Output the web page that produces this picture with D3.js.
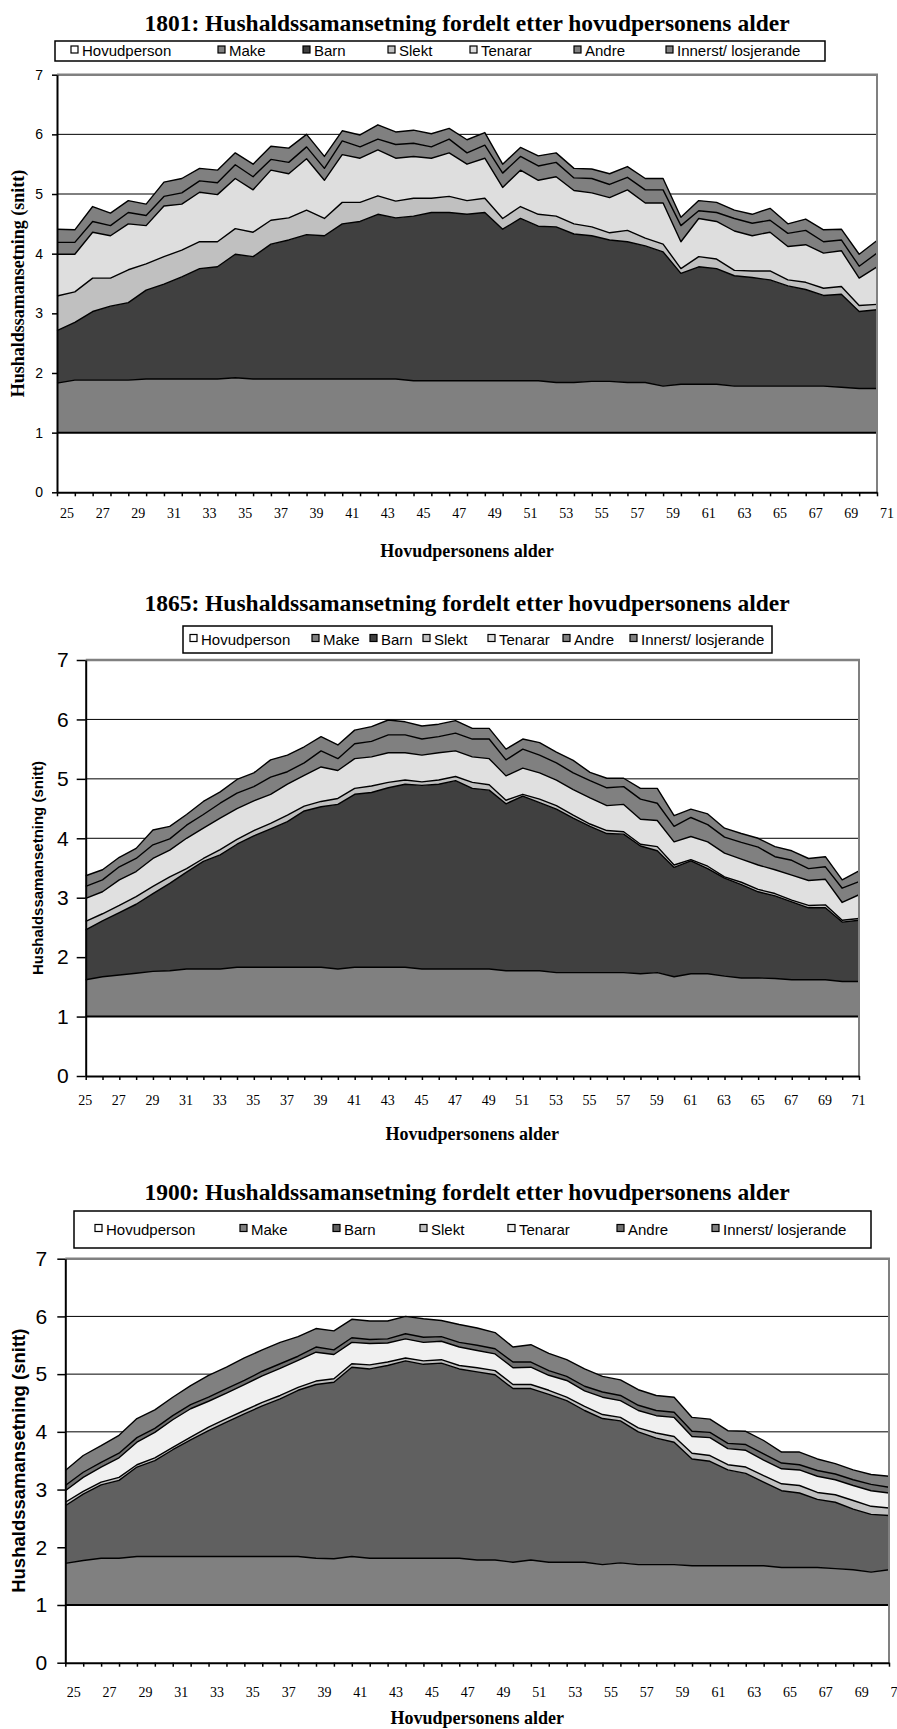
<!DOCTYPE html>
<html>
<head>
<meta charset="utf-8">
<script src="https://cdn.jsdelivr.net/npm/d3@7"></script>
<style>
body { margin: 0; background: #fff; }
svg { display: block; }
</style>
</head>
<body>
<div id="chart"></div>
<script>
var ages = [25,26,27,28,29,30,31,32,33,34,35,36,37,38,39,40,41,42,43,44,45,46,47,48,49,
            50,51,52,53,54,55,56,57,58,59,60,61,62,63,64,65,66,67,68,69,70,71];
var tickAges = [25,27,29,31,33,35,37,39,41,43,45,47,49,51,53,55,57,59,61,63,65,67,69,71];
var keys = ["Hovudperson","Make","Barn","Slekt","Tenarar","Andre","Innerst/ losjerande"];

// hovudpersonen sjølv: alltid 1
var hovudperson = [1,1,1,1,1,1,1,1,1,1,1,1,1,1,1,1,1,1,1,1,1,1,1,1,1,
                   1,1,1,1,1,1,1,1,1,1,1,1,1,1,1,1,1,1,1,1,1,1];

// 1801
var make1801 = [0.83,0.88,0.88,0.88,0.88,0.90,0.90,0.90,0.90,0.90, 0.92,0.90,0.90,0.90,0.90,0.90,0.90,0.90,0.90,0.90,
                0.87,0.87,0.87,0.87,0.87,0.87,0.87,0.87,0.84,0.84, 0.86,0.86,0.84,0.84,0.78,0.81,0.81,0.81,0.78,0.78,
                0.78,0.78,0.78,0.78,0.76,0.74,0.74];
var barn1801 = [0.88,0.97,1.15,1.24,1.30,1.49,1.59,1.71,1.85,1.88, 2.07,2.05,2.26,2.33,2.42,2.40,2.60,2.64,2.76,2.70,
                2.76,2.82,2.82,2.79,2.82,2.54,2.72,2.59,2.61,2.49, 2.44,2.37,2.36,2.29,2.25,1.86,1.97,1.94,1.85,1.82,
                1.78,1.68,1.62,1.52,1.56,1.29,1.32];
var slekt1801 = [0.58,0.51,0.56,0.47,0.55,0.44,0.46,0.45,0.45,0.42, 0.43,0.41,0.40,0.37,0.41,0.29,0.36,0.32,0.31,0.28,
                 0.30,0.24,0.27,0.23,0.24,0.18,0.20,0.20,0.18,0.17, 0.15,0.12,0.19,0.13,0.13,0.08,0.17,0.16,0.09,0.11,
                 0.15,0.10,0.12,0.12,0.13,0.10,0.09];
var tenarar1801 = [0.70,0.63,0.77,0.71,0.77,0.64,0.85,0.77,0.83,0.79, 0.84,0.71,0.84,0.74,0.86,0.64,0.80,0.74,0.77,0.72,
                   0.70,0.67,0.73,0.61,0.67,0.52,0.61,0.57,0.66,0.56, 0.57,0.59,0.68,0.59,0.69,0.45,0.64,0.63,0.66,0.59,
                   0.65,0.56,0.63,0.59,0.60,0.46,0.63];
var andre1801 = [0.20,0.20,0.18,0.17,0.19,0.17,0.16,0.19,0.19,0.20, 0.23,0.22,0.18,0.19,0.20,0.20,0.23,0.19,0.18,0.23,
                 0.22,0.19,0.23,0.19,0.22,0.24,0.23,0.24,0.24,0.21, 0.24,0.22,0.21,0.22,0.22,0.27,0.13,0.15,0.21,0.21,
                 0.20,0.22,0.24,0.19,0.18,0.20,0.23];
var innerst1801 = [0.22,0.21,0.25,0.21,0.20,0.19,0.24,0.24,0.21,0.21, 0.20,0.21,0.22,0.24,0.21,0.20,0.17,0.20,0.24,0.21,
                   0.22,0.22,0.18,0.22,0.21,0.15,0.15,0.17,0.16,0.16, 0.16,0.18,0.18,0.19,0.19,0.14,0.17,0.17,0.14,0.15,
                   0.20,0.16,0.19,0.20,0.18,0.20,0.21];

// 1865
var make1865 = [0.62,0.67,0.70,0.73,0.76,0.77,0.80,0.80,0.80,0.83, 0.83,0.83,0.83,0.83,0.83,0.80,0.83,0.83,0.83,0.83,
                0.80,0.80,0.80,0.80,0.80,0.77,0.77,0.77,0.74,0.74, 0.74,0.74,0.74,0.72,0.74,0.67,0.72,0.72,0.68,0.65,
                0.65,0.64,0.62,0.62,0.62,0.59,0.59];
var barn1865 = [0.84,0.94,1.05,1.16,1.31,1.47,1.63,1.81,1.92,2.07, 2.21,2.33,2.45,2.63,2.70,2.77,2.91,2.94,3.02,3.08,
                3.09,3.11,3.17,3.04,3.01,2.81,2.94,2.83,2.75,2.60, 2.46,2.34,2.33,2.15,2.05,1.84,1.90,1.77,1.65,1.57,
                1.45,1.39,1.31,1.21,1.21,1.00,1.03];
var slekt1865 = [0.14,0.12,0.12,0.13,0.12,0.11,0.06,0.05,0.09,0.08, 0.09,0.09,0.11,0.08,0.09,0.10,0.10,0.11,0.09,0.07,
                 0.06,0.07,0.07,0.10,0.09,0.06,0.03,0.06,0.06,0.05, 0.04,0.05,0.04,0.03,0.07,0.04,0.02,0.04,0.02,0.04,
                 0.04,0.04,0.03,0.04,0.05,0.03,0.03];
var tenarar1865 = [0.39,0.37,0.43,0.42,0.47,0.45,0.51,0.51,0.53,0.52, 0.50,0.49,0.52,0.52,0.58,0.47,0.50,0.49,0.50,0.46,
                   0.45,0.46,0.43,0.43,0.44,0.41,0.44,0.44,0.43,0.43, 0.44,0.42,0.46,0.42,0.44,0.39,0.39,0.41,0.40,0.39,
                   0.41,0.40,0.42,0.42,0.43,0.30,0.40];
var andre1865 = [0.20,0.20,0.22,0.22,0.23,0.19,0.22,0.23,0.25,0.26, 0.24,0.29,0.21,0.21,0.27,0.20,0.25,0.26,0.30,0.30,
                 0.27,0.27,0.30,0.30,0.33,0.27,0.32,0.30,0.29,0.28, 0.29,0.30,0.30,0.34,0.29,0.26,0.32,0.29,0.27,0.28,
                 0.30,0.22,0.25,0.20,0.21,0.24,0.22];
var innerst1865 = [0.18,0.17,0.16,0.17,0.25,0.21,0.18,0.22,0.19,0.23, 0.23,0.29,0.28,0.27,0.24,0.23,0.23,0.25,0.25,0.22,
                   0.22,0.21,0.21,0.18,0.18,0.18,0.17,0.21,0.18,0.21, 0.14,0.16,0.14,0.18,0.25,0.18,0.14,0.18,0.15,0.15,
                   0.15,0.17,0.16,0.17,0.17,0.14,0.18];

// 1900
var make1900 = [0.72,0.77,0.81,0.81,0.84,0.84,0.84,0.84,0.84,0.84, 0.84,0.84,0.84,0.84,0.81,0.80,0.84,0.81,0.81,0.81,
                0.81,0.81,0.81,0.78,0.78,0.74,0.78,0.74,0.74,0.74, 0.70,0.73,0.70,0.70,0.70,0.68,0.68,0.68,0.68,0.68,
                0.65,0.65,0.65,0.63,0.61,0.57,0.61];
var barn1900 = [1.00,1.15,1.27,1.35,1.55,1.66,1.85,2.02,2.18,2.33, 2.47,2.61,2.73,2.88,3.01,3.06,3.28,3.28,3.34,3.42,
                3.36,3.38,3.28,3.26,3.21,3.01,2.97,2.91,2.80,2.63, 2.53,2.46,2.30,2.19,2.12,1.85,1.81,1.66,1.60,1.45,
                1.33,1.29,1.18,1.15,1.05,1.00,0.94];
var slekt1900 = [0.06,0.05,0.05,0.05,0.04,0.05,0.04,0.05,0.06,0.06, 0.06,0.06,0.06,0.05,0.06,0.06,0.06,0.07,0.06,0.05,
                 0.06,0.06,0.06,0.07,0.07,0.07,0.07,0.07,0.06,0.07, 0.07,0.06,0.07,0.09,0.10,0.10,0.10,0.09,0.11,0.11,
                 0.12,0.13,0.12,0.13,0.15,0.14,0.13];
var tenarar1900 = [0.20,0.24,0.26,0.34,0.39,0.44,0.48,0.49,0.45,0.44, 0.45,0.46,0.47,0.47,0.50,0.42,0.37,0.37,0.33,0.33,
                   0.32,0.32,0.32,0.30,0.29,0.29,0.30,0.26,0.29,0.27, 0.30,0.29,0.30,0.30,0.33,0.29,0.31,0.28,0.29,0.27,
                   0.26,0.27,0.28,0.26,0.26,0.27,0.26];
var andre1900 = [0.09,0.09,0.08,0.08,0.08,0.07,0.07,0.07,0.07,0.08, 0.07,0.08,0.08,0.07,0.09,0.08,0.08,0.07,0.07,0.09,
                 0.09,0.08,0.08,0.09,0.09,0.10,0.09,0.08,0.07,0.08, 0.09,0.09,0.09,0.09,0.09,0.09,0.09,0.09,0.10,0.11,
                 0.10,0.09,0.10,0.10,0.10,0.11,0.10];
var innerst1900 = [0.26,0.29,0.29,0.31,0.33,0.32,0.32,0.33,0.38,0.37, 0.39,0.37,0.37,0.34,0.32,0.33,0.32,0.32,0.31,0.30,
                   0.32,0.28,0.31,0.30,0.28,0.26,0.30,0.30,0.29,0.30, 0.27,0.27,0.27,0.26,0.26,0.24,0.23,0.22,0.23,0.23,
                   0.19,0.22,0.20,0.18,0.17,0.17,0.19];

var serif = "'Liberation Serif', 'Times New Roman', serif";
var sans = "'Liberation Sans', Arial, sans-serif";

var svg = d3.select("#chart").append("svg")
  .attr("width", 897)
  .attr("height", 1729);

function drawChart(c) {
  var rows = ages.map(function(a, i) {
    var r = { age: a };
    keys.forEach(function(k, j) { r[k] = c.values[j][i]; });
    return r;
  });
  var series = d3.stack().keys(keys)(rows);

  var x = d3.scalePoint().domain(ages).range([c.left, c.right]);
  var y = d3.scaleLinear().domain([0, 7]).range([c.bottom, c.top]);

  var g = svg.append("g");

  // tittel
  g.append("text")
    .attr("x", 467)
    .attr("y", c.titleY)
    .attr("text-anchor", "middle")
    .style("font-family", serif)
    .style("font-weight", "bold")
    .style("font-size", "23.5px")
    .text(c.year + ": Hushaldssamansetning fordelt etter hovudpersonens alder");

  // forklaring
  g.append("rect")
    .attr("x", c.legend.x0).attr("y", c.legend.y0)
    .attr("width", c.legend.x1 - c.legend.x0)
    .attr("height", c.legend.y1 - c.legend.y0)
    .attr("fill", "#fff").attr("stroke", "#000").attr("stroke-width", 1.5);
  var cy = (c.legend.y0 + c.legend.y1) / 2;
  var items = g.selectAll(".leg").data(keys).enter().append("g");
  items.append("rect")
    .attr("x", function(d, i) { return c.legend.marks[i]; })
    .attr("y", cy - 5)
    .attr("width", 7).attr("height", 7)
    .attr("fill", function(d, i) { return c.colors[i]; })
    .attr("stroke", "#000").attr("stroke-width", 1.2);
  items.append("text")
    .attr("x", function(d, i) { return c.legend.marks[i] + 11; })
    .attr("y", cy + 5)
    .style("font-family", sans)
    .style("font-size", "15px")
    .text(function(d) { return d; });

  // rutenett
  g.selectAll(".grid").data([1, 2, 3, 4, 5, 6]).enter().append("line")
    .attr("x1", c.left).attr("x2", c.right)
    .attr("y1", function(d) { return y(d); })
    .attr("y2", function(d) { return y(d); })
    .attr("stroke", "#000").attr("stroke-width", 1);

  // flater
  var area = d3.area()
    .x(function(d) { return x(d.data.age); })
    .y0(function(d) { return y(d[0]); })
    .y1(function(d) { return y(d[1]); });
  g.selectAll(".area").data(series).enter().append("path")
    .attr("d", area)
    .attr("fill", function(d, i) { return c.colors[i]; });

  var line = d3.line()
    .x(function(d) { return x(d.data.age); })
    .y(function(d) { return y(d[1]); });
  g.selectAll(".edge").data(series).enter().append("path")
    .attr("d", line)
    .attr("fill", "none")
    .attr("stroke", "#000")
    .attr("stroke-width", function(d, i) { return i == 0 ? 2 : 1.4; })
    .attr("stroke-linejoin", "round");

  // ramme oppe og til høgre
  g.append("line")
    .attr("x1", c.left).attr("x2", c.right + 1)
    .attr("y1", c.top).attr("y2", c.top)
    .attr("stroke", "#808080").attr("stroke-width", 2.5);
  g.append("line")
    .attr("x1", c.right).attr("x2", c.right)
    .attr("y1", c.top).attr("y2", c.bottom)
    .attr("stroke", "#808080").attr("stroke-width", 2);

  // y-akse
  var yAxis = d3.axisLeft(y)
    .ticks(7)
    .tickSizeInner(c.yTick)
    .tickSizeOuter(0)
    .tickPadding(c.yPad);
  var ya = g.append("g")
    .attr("transform", "translate(" + c.left + ",0)")
    .call(yAxis);
  ya.select(".domain").attr("stroke-width", 2);
  ya.selectAll(".tick line").attr("stroke-width", 1.5);
  ya.selectAll(".tick text")
    .attr("fill", "#000")
    .style("font-family", sans)
    .style("font-size", c.yFont + "px");

  // x-akse
  var xAxis = d3.axisBottom(x)
    .tickValues(ages)
    .tickSizeInner(4)
    .tickSizeOuter(0)
    .tickFormat(function(a) { return tickAges.indexOf(a) >= 0 ? a : ""; });
  var xa = g.append("g")
    .attr("transform", "translate(0," + c.bottom + ")")
    .call(xAxis);
  xa.select(".domain").attr("stroke-width", 2);
  xa.selectAll(".tick line").attr("stroke-width", 1.5);
  xa.selectAll(".tick text")
    .attr("fill", "#000")
    .attr("y", c.xLabelY - c.bottom)
    .attr("dy", 0)
    .attr("dx", c.xDx)
    .style("font-family", serif)
    .style("font-size", "14px");

  // aksetitlar
  g.append("text")
    .attr("x", (c.left + c.right) / 2)
    .attr("y", c.xTitleY)
    .attr("text-anchor", "middle")
    .style("font-family", serif)
    .style("font-weight", "bold")
    .style("font-size", "18px")
    .text("Hovudpersonens alder");

  g.append("text")
    .attr("transform", "translate(" + c.yTitle.x + "," + (c.top + c.bottom) / 2 + ") rotate(-90)")
    .attr("text-anchor", "middle")
    .style("font-family", c.yTitle.font)
    .style("font-weight", "bold")
    .style("font-size", c.yTitle.size + "px")
    .text("Hushaldssamansetning (snitt)");
}

drawChart({
  year: "1801",
  values: [hovudperson, make1801, barn1801, slekt1801, tenarar1801, andre1801, innerst1801],
  colors: ["#ffffff", "#808080", "#404040", "#c0c0c0", "#dedede", "#808080", "#808080"],
  left: 57, right: 877, top: 74.7, bottom: 492.3,
  titleY: 31,
  legend: { x0: 55, x1: 825, y0: 41, y1: 61, marks: [71, 218, 303, 388, 470, 574, 666] },
  yTick: 5, yPad: 9, yFont: 14,
  xLabelY: 518, xDx: 9.5, xTitleY: 557,
  yTitle: { x: 24, size: 18, font: serif }
});

drawChart({
  year: "1865",
  values: [hovudperson, make1865, barn1865, slekt1865, tenarar1865, andre1865, innerst1865],
  colors: ["#ffffff", "#808080", "#404040", "#c0c0c0", "#e0e0e0", "#808080", "#808080"],
  left: 85.7, right: 859, top: 660, bottom: 1076,
  titleY: 611,
  legend: { x0: 183, x1: 772, y0: 626, y1: 653, marks: [190, 312, 370, 423, 488, 563, 630] },
  yTick: 9, yPad: 8, yFont: 21,
  xLabelY: 1105, xDx: -1, xTitleY: 1140,
  yTitle: { x: 43, size: 15, font: sans }
});

drawChart({
  year: "1900",
  values: [hovudperson, make1900, barn1900, slekt1900, tenarar1900, andre1900, innerst1900],
  colors: ["#ffffff", "#808080", "#606060", "#c0c0c0", "#f0f0f0", "#707070", "#808080"],
  left: 65.3, right: 889, top: 1258.7, bottom: 1662.7,
  titleY: 1200,
  legend: { x0: 74, x1: 871, y0: 1211, y1: 1248, marks: [95, 240, 333, 420, 508, 617, 712] },
  yTick: 8, yPad: 10, yFont: 21,
  xLabelY: 1697, xDx: 8, xTitleY: 1724,
  yTitle: { x: 25, size: 18.5, font: sans }
});
</script>
</body>
</html>
